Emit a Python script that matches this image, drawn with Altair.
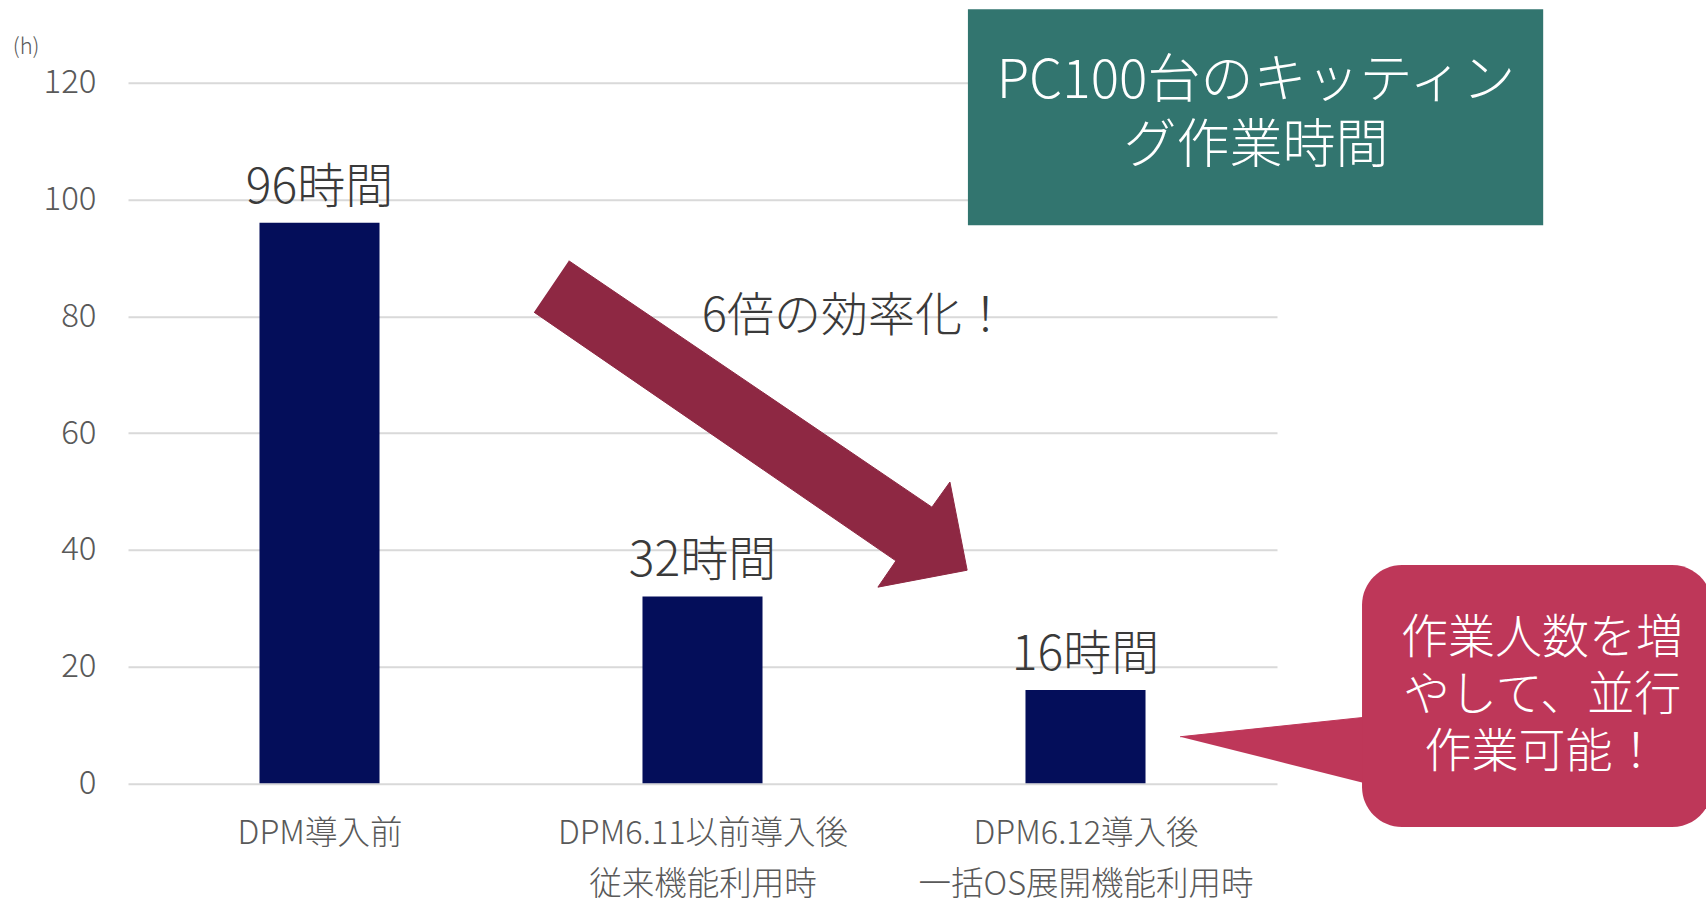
import altair as alt
import pandas as pd

FONT = "Noto Sans CJK JP"

# ---------------- data ----------------
categories = ["DPM導入前", "DPM6.11以前導入後\n従来機能利用時", "DPM6.12導入後\n一括OS展開機能利用時"]
hours = [96, 32, 16]
bar_labels = ["96時間", "32時間", "16時間"]
y_ticks = [0, 20, 40, 60, 80, 100, 120]
y_unit = "(h)"

# annotations, in data units: x = category slots (0..3), y = hours
arrow_x = [1.151, 2.099, 2.146, 2.191, 1.958, 2.005, 1.060]
arrow_y = [89.5, 47.3, 51.6, 36.5, 33.6, 38.1, 80.7]
arrow_text = ["6倍の効率化！"]
arrow_text_x = [1.899]
arrow_text_y = [79.9]

title_box_x = [2.193, 3.695]
title_box_y = [132.6, 95.6]
title_lines = ["PC100台のキッティン", "グ作業時間"]
title_line_x = [2.945, 2.945]
title_line_y = [120.1, 109.0]

bubble_x = [3.222, 4.136]
bubble_y = [37.4, -7.5]
pointer_x = [2.747, 3.30, 3.30]
pointer_y = [7.97, 11.8, -1.15]
bubble_lines = ["作業人数を増", "やして、並行", "作業可能！"]
bubble_line_x = [3.692, 3.692, 3.692]
bubble_line_y = [24.8, 15.0, 5.2]

unit_x = [-0.266]
unit_y = [126.2]

NAVY = "#040E5A"
MAROON = "#8E2843"
GREEN = "#32756F"
PINK = "#BE3759"
DARK = "#3A3A3A"
GREY = "#595959"

BAR_HALF = 0.1567  # half bar width in category-slot units

# ---------------- frames ----------------
df = pd.DataFrame({"idx": list(range(len(categories))), "cat": categories,
                   "hours": hours, "label": bar_labels})
arrow_df = pd.DataFrame({"x": arrow_x, "y": arrow_y, "i": list(range(len(arrow_x)))})
arrow_txt_df = pd.DataFrame({"x": arrow_text_x, "y": arrow_text_y, "t": arrow_text})
title_box_df = pd.DataFrame({"x": [title_box_x[0]], "x2": [title_box_x[1]],
                             "y": [title_box_y[0]], "y2": [title_box_y[1]]})
title_df = pd.DataFrame({"x": title_line_x, "y": title_line_y, "t": title_lines})
bubble_df = pd.DataFrame({"x": [bubble_x[0]], "x2": [bubble_x[1]],
                          "y": [bubble_y[0]], "y2": [bubble_y[1]]})
pointer_df = pd.DataFrame({"x": pointer_x, "y": pointer_y, "i": list(range(len(pointer_x)))})
bubble_txt_df = pd.DataFrame({"x": bubble_line_x, "y": bubble_line_y, "t": bubble_lines})
unit_df = pd.DataFrame({"x": unit_x, "y": unit_y, "t": [y_unit]})

yscale = alt.Scale(domain=[0, 120], nice=False, zero=True, padding=0)
xscale = alt.Scale(domain=[0, 3], nice=False, zero=False, padding=0)

# label lookup for the x axis, built from the categories list
cat_array = "[" + ", ".join("'" + c.replace("\n", "\\n") + "'" for c in categories) + "]"
label_expr = f"split({cat_array}[floor(datum.value)], '\\n')"

x_axis = alt.Axis(values=[i + 0.5 for i in range(len(categories))], labelExpr=label_expr,
                  labelAngle=0, labelFont=FONT, labelFontSize=32.5, labelFontWeight=300,
                  labelColor=GREY, labelPadding=34, labelLineHeight=51, labelLimit=0,
                  labelOverlap=False, labelFlush=False, domain=False, ticks=False, grid=False)
y_axis = alt.Axis(values=y_ticks, labelFont=FONT, labelFontSize=33, labelFontWeight=300,
                  labelColor=GREY, labelPadding=32, domain=False, ticks=False, grid=True,
                  gridColor="#D9D9D9", gridWidth=2)

base = alt.Chart(df).transform_calculate(
    xc="datum.idx + 0.5", xl=f"datum.idx + 0.5 - {BAR_HALF}", xr=f"datum.idx + 0.5 + {BAR_HALF}"
)
bars = base.mark_bar(color=NAVY).encode(
    x=alt.X("xl:Q", scale=xscale, axis=x_axis, title=None),
    x2="xr:Q",
    y=alt.Y("hours:Q", scale=yscale, axis=y_axis, title=None),
    y2=alt.datum(0),
)
bar_text = base.mark_text(dy=-20, baseline="alphabetic", fontSize=48,
                          font=FONT, fontWeight=300, color=DARK).encode(
    x=alt.X("xc:Q", scale=xscale),
    y=alt.Y("hours:Q", scale=yscale),
    text="label:N",
)

xq = alt.X("x:Q", scale=xscale)
yq = alt.Y("y:Q", scale=yscale)
x2q = alt.X2("x2:Q")
y2q = alt.Y2("y2:Q")

arrow = alt.Chart(arrow_df).mark_line(fill=MAROON, stroke=MAROON, strokeWidth=1,
                                      interpolate="linear").encode(
    x=xq, y=yq, order="i:Q")
arrow_label = alt.Chart(arrow_txt_df).mark_text(fontSize=47, font=FONT, fontWeight=300,
                                                color=DARK, baseline="middle").encode(
    x=xq, y=yq, text="t:N")

title_box = alt.Chart(title_box_df).mark_rect(color=GREEN).encode(x=xq, x2=x2q, y=yq, y2=y2q)
title_text = alt.Chart(title_df).mark_text(fontSize=53, font=FONT, fontWeight=300,
                                           color="white", baseline="middle").encode(
    x=xq, y=yq, text="t:N")

pointer = alt.Chart(pointer_df).mark_line(fill=PINK, stroke=PINK, strokeWidth=1,
                                          interpolate="linear").encode(
    x=xq, y=yq, order="i:Q")
bubble = alt.Chart(bubble_df).mark_rect(color=PINK, cornerRadius=40).encode(
    x=xq, x2=x2q, y=yq, y2=y2q)
bubble_text = alt.Chart(bubble_txt_df).mark_text(fontSize=47, font=FONT, fontWeight=300,
                                                 color="white", baseline="middle").encode(
    x=xq, y=yq, text="t:N")

unit = alt.Chart(unit_df).mark_text(fontSize=22, font=FONT, fontWeight=300,
                                    color=GREY, baseline="middle").encode(
    x=xq, y=yq, text="t:N")

chart = alt.layer(
    bars, bar_text, arrow, arrow_label, title_box, title_text, pointer, bubble, bubble_text, unit
).properties(
    width=1149, height=700.6,
    padding={"left": 128, "top": 82.7, "right": 429, "bottom": 114.7},
    autosize=alt.AutoSizeParams(type="none"),
    background="white",
).configure_view(strokeWidth=0)

chart.save("out.html", embed_options={"renderer": "svg", "actions": False})
